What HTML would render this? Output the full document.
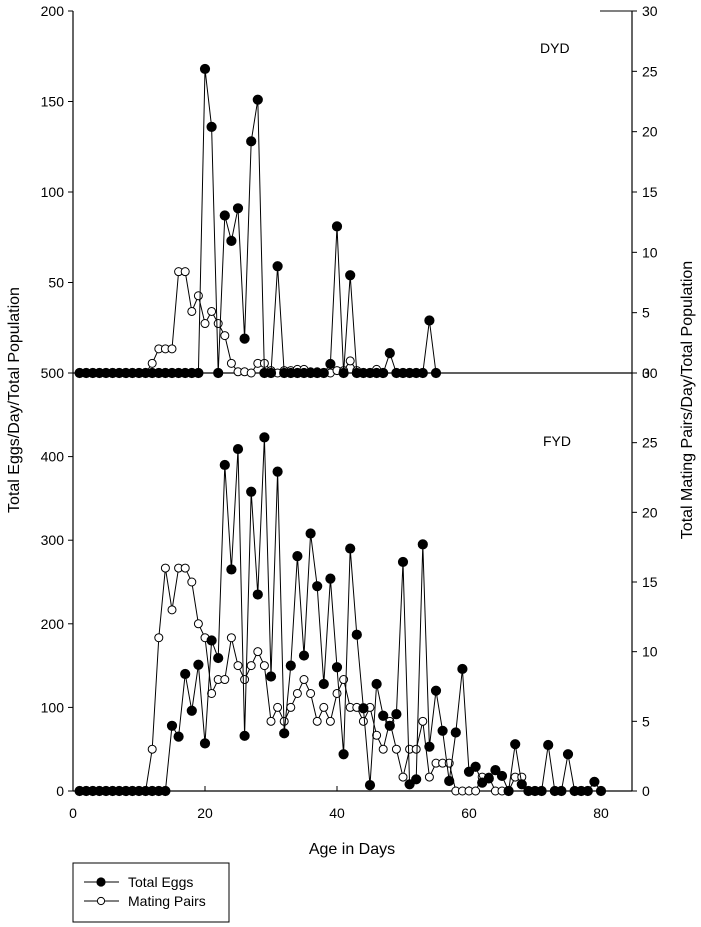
<!DOCTYPE html>
<html><head><meta charset="utf-8"><style>
html,body{margin:0;padding:0;background:#fff;}
svg{display:block;font-family:"Liberation Sans",Arial,sans-serif;}
</style></head><body>
<svg id="chart" width="701" height="927" viewBox="0 0 701 927">
</svg>
<script>
const days = Array.from({length:80},(_,i)=>i+1);
const dydEggs = [0,0,0,0,0,0,0,0,0,0,0,0,0,0,0,0,0,0,0,168,136,0,87,73,91,19,128,151,0,0,59,0,0,0,0,0,0,0,5,81,0,54,0,0,0,0,0,11,0,0,0,0,0,29,0];
const dydMating = [0,0,0,0,0,0,0,0,0,0,0,0.8,2,2,2,8.4,8.4,5.1,6.4,4.1,5.1,4.1,3.1,0.8,0.1,0.1,0,0.8,0.8,0.2,0,0.2,0.2,0.3,0.3,0.1,0.1,0,0,0.2,0.2,1,0.2,0,0,0.3,0];
const fydEggs = [0,0,0,0,0,0,0,0,0,0,0,0,0,0,78,65,140,96,151,57,180,159,390,265,409,66,358,235,423,137,382,69,150,281,162,308,245,128,254,148,44,290,187,99,7,128,90,78,92,274,8,14,295,53,120,72,12,70,146,23,29,10,15,25,18,0,56,8,0,0,0,55,0,0,44,0,0,0,11,0];
const fydMating = [0,0,0,0,0,0,0,0,0,0,0,3,11,16,13,16,16,15,12,11,7,8,8,11,9,8,9,10,9,5,6,5,6,7,8,7,5,6,5,7,8,6,6,5,6,4,3,5,3,1,3,3,5,1,2,2,2,0,0,0,0,1,1,0,0,0,1,1];
const xTicks = [0,20,40,60,80];
const topLeftTicks = [200,150,100,50];
const rightTicksTop = [30,25,20,15,10,5];
const botLeftTicks = [400,300,200,100,0];
const rightTicksBot = [25,20,15,10,5,0];

const svg = document.getElementById('chart');
const NS = 'http://www.w3.org/2000/svg';
function mk(tag, attrs, parent){const e=document.createElementNS(NS,tag);for(const k in attrs)e.setAttribute(k,attrs[k]);(parent||svg).appendChild(e);return e;}
const X0=73, X1=632, MID=373, BOT=791, TOP=11;
const xs = d => 73 + d*6.6;
const yTopL = v => Math.min(MID, MID - (MID-TOP)/200*v);
const yTopR = v => Math.min(MID, MID - (MID-TOP)/30*v);
const yBotL = v => Math.min(BOT, BOT - (BOT-MID)/500*v);
const yBotR = v => Math.min(BOT, BOT - (BOT-MID)/30*v);

let e;
e=mk('line',{x1:X0,y1:TOP,x2:X0,y2:BOT,stroke:'#000','stroke-width':1.2});

e=mk('line',{x1:X1,y1:TOP,x2:X1,y2:BOT,stroke:'#000','stroke-width':1.2});

e=mk('line',{x1:X0,y1:BOT,x2:X1,y2:BOT,stroke:'#000','stroke-width':1.2});

e=mk('line',{x1:X0,y1:MID,x2:X1,y2:MID,stroke:'#000','stroke-width':1.2});

mk('line',{x1:600,y1:TOP,x2:X1,y2:TOP,stroke:'#000','stroke-width':1});

function txt(s,x,y,anchor,size,name){const t=mk('text',{x:x,y:y,'text-anchor':anchor,'font-size':size,fill:'#000'});t.textContent=s;

return t;}

topLeftTicks.forEach(v=>{const y=yTopL(v);mk('line',{x1:X0-5,y1:y,x2:X0,y2:y,stroke:'#000'});txt(String(v),X0-9,y+5,'end',14,'left-tick-label');});
botLeftTicks.concat([500]).forEach(v=>{const y=yBotL(v);mk('line',{x1:X0-5,y1:y,x2:X0,y2:y,stroke:'#000'});txt(String(v),X0-9,y+5,'end',14,'left-tick-label');});
rightTicksTop.forEach(v=>{const y=yTopR(v);mk('line',{x1:X1,y1:y,x2:X1+5,y2:y,stroke:'#000'});txt(String(v),X1+10,y+5,'start',14,'right-tick-label');});
mk('line',{x1:X1,y1:MID,x2:X1+5,y2:MID,stroke:'#000'});
txt('30',X1+10,MID+5,'start',14,'right-tick-label');
txt('0',X1+10,MID+5,'start',14,'right-tick-label');
rightTicksBot.forEach(v=>{const y=yBotR(v);mk('line',{x1:X1,y1:y,x2:X1+5,y2:y,stroke:'#000'});txt(String(v),X1+10,y+5,'start',14,'right-tick-label');});
xTicks.forEach(v=>{const x=xs(v);mk('line',{x1:x,y1:BOT,x2:x,y2:BOT-5,stroke:'#000'});txt(String(v),x,BOT+27,'middle',14,'x-tick-label');});

txt('Age in Days',352,854,'middle',16,'x-axis-title');
let t=txt('Total Eggs/Day/Total Population',0,0,'middle',16,'y-axis-title-left');t.setAttribute('transform','translate(19,400) rotate(-90)');
t=txt('Total Mating Pairs/Day/Total Population',0,0,'middle',16,'y-axis-title-right');t.setAttribute('transform','translate(692,400) rotate(-90)');
txt('DYD',540,53,'start',14,'panel-label-dyd');
txt('FYD',543,446,'start',14,'panel-label-fyd');

function series(vals,yf,filled,name){
  const pts=vals.map((v,i)=>[xs(days[i]),yf(v)]);
  const p=mk('polyline',{points:pts.map(p=>p.join(',')).join(' '),fill:'none',stroke:'#000','stroke-width':1});
  
  
  pts.forEach(pt=>{const c=mk('circle',{cx:pt[0],cy:pt[1],r:filled?4.6:4,fill:filled?'#000':'#fff',stroke:'#000','stroke-width':1});
    
    });
}
series(dydMating,yTopR,false,'dyd-mating');
series(dydEggs,yTopL,true,'dyd-eggs');
series(fydMating,yBotR,false,'fyd-mating');
series(fydEggs,yBotL,true,'fyd-eggs');

const lg=mk('g',{});


mk('rect',{x:73,y:863,width:156,height:59,fill:'#fff',stroke:'#000','stroke-width':1},lg);
mk('line',{x1:84,y1:882,x2:119,y2:882,stroke:'#000'},lg);
mk('circle',{cx:101,cy:882,r:4.6,fill:'#000'},lg);
mk('line',{x1:84,y1:901,x2:119,y2:901,stroke:'#000'},lg);
mk('circle',{cx:101,cy:901,r:3.6,fill:'#fff',stroke:'#000'},lg);
t=txt('Total Eggs',128,887,'start',14,'legend-entry-eggs');lg.appendChild(t);
t=txt('Mating Pairs',128,906,'start',14,'legend-entry-mating');lg.appendChild(t);
</script>
</body></html>
